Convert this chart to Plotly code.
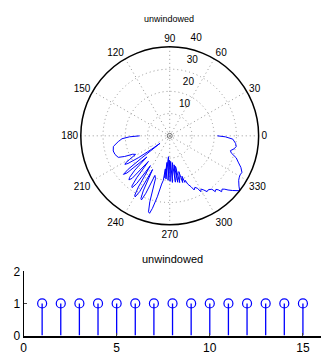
import plotly.graph_objects as go

# ---- polar pattern data (degrees, radial value) ----
theta_deg = [180, 181.4, 183.5, 186.4, 190.7, 195, 198.8, 202.7, 204.6, 206.4, 208.5, 210.5,
             211.5, 212.5, 213.5, 215, 216.5, 217.6, 218.3, 218.8, 219.8, 221, 222.8, 224.5,
             226, 227.2, 228.5, 230.2, 231.8, 233, 234, 235.3, 237, 238.5, 239.5, 240.5,
             241.7, 243, 244.3, 245.3, 246.2, 247.4, 249.5, 251.6, 253.2, 254.4, 255.4,
             256.6, 258.5, 260.5, 261.8,
             262.5, 263.3, 264.2, 265.0, 266.5, 267.8, 269.2, 270.5, 272.0, 273.3, 275.6, 277.0,
             278.6, 279.8, 280.7, 282.0, 284.3, 285.5, 286.9, 288.0, 289.2,
             290.5, 292.7, 294.3, 296, 297.9, 299, 300.5, 302.2, 303.8, 305.5, 308.3, 309.2,
             310.8, 312, 312.9, 314.5, 315.9, 317.1, 319, 321.9, 324, 327.2, 329.3, 331, 333.2,
             336.1, 339, 341.7, 344.5, 346.3, 348.5, 350.9, 353.5, 357, 359, 360]
r_vals = [13.5, 18.1, 21.5, 23.3, 25.8, 26.3, 26.0, 25.1, 22.3, 18.6, 17.5, 21,
          23.2, 23.9, 22.5, 17, 10, 5.5, 16, 24, 27.1, 25.5, 14, 22,
          26, 27, 25.5, 15, 24, 28.3, 28.8, 26, 16, 27, 31, 31.6,
          28.5, 17, 27.5, 31, 31.5, 28, 19, 20.3, 31, 35.5, 36,
          33.5, 28, 22, 20.2,
          15, 19, 12, 19.5, 9.4, 20, 11, 20.5, 11.5, 21, 12.1, 21,
          13.2, 21.2, 14, 21.5, 16.6, 21.8, 19, 22, 21.2,
          23.2, 24.8, 26.7, 25.8, 26.7, 28.7, 27.8, 28.8, 30.2, 29.8, 30.6, 32.4,
          31.8, 32.7, 34.3, 33.6, 34.5, 35.8, 37.5, 40.0, 38.5, 36.9, 36.4, 36.2, 36.4,
          35, 33, 31.5, 28.7, 28.1, 29.5, 30.3, 29.8, 28.4, 25, 21.4]

angle_ticks = [0, 30, 60, 90, 120, 150, 180, 210, 240, 270, 300, 330]
radial_ticks = [10, 20, 30, 40]

# ---- stem data ----
n_idx = list(range(1, 16))
w_vals = [1] * 15
x_ticks = [0, 5, 10, 15]
y_ticks = [0, 1, 2]

FONT = "Liberation Sans, Arial, sans-serif"
W, H = 321, 363

fig = go.Figure()

fig.add_trace(go.Scatterpolar(
    r=r_vals, theta=theta_deg, mode="lines",
    line=dict(color="rgb(0,0,255)", width=1), showlegend=False, subplot="polar"))
fig.add_trace(go.Scatterpolar(
    r=[0], theta=[0], mode="markers",
    marker=dict(symbol="circle-open", size=5, color="rgb(110,110,110)", line=dict(width=1)),
    showlegend=False, subplot="polar"))

fig.add_trace(go.Scatter(
    x=n_idx, y=w_vals, mode="markers",
    marker=dict(symbol="circle-open", size=9, color="rgb(0,0,255)", line=dict(width=1.2)),
    error_y=dict(type="data", symmetric=False, array=[0] * len(w_vals), arrayminus=w_vals,
                 width=0, color="rgb(0,0,255)", thickness=1.3),
    showlegend=False, xaxis="x", yaxis="y"))

cx0, cx1 = 76 / W, 260.6 / W
cy0, cy1 = 1 - 226.5 / H, 1 - 41.5 / H

fig.update_layout(
    width=W, height=H,
    margin=dict(l=0, r=0, t=0, b=0),
    paper_bgcolor="white", plot_bgcolor="white",
    font=dict(family=FONT, size=10, color="black"),
    polar=dict(
        domain=dict(x=[cx0, cx1], y=[cy0, cy1]),
        bgcolor="white",
        angularaxis=dict(
            tickmode="array", tickvals=angle_ticks, ticktext=[str(a) for a in angle_ticks],
            direction="counterclockwise", rotation=0,
            showline=True, linecolor="black", linewidth=1.5,
            showgrid=True, gridcolor="rgb(150,150,150)", griddash="1px,3px", gridwidth=1,
            ticks="", tickfont=dict(size=10, family=FONT)),
        radialaxis=dict(
            range=[0, 40], tickmode="array", tickvals=radial_ticks,
            ticktext=[str(v) + "<br> <br> " for v in radial_ticks],
            angle=80, tickangle=80, side="clockwise",
            showline=False, ticks="",
            showgrid=True, gridcolor="rgb(150,150,150)", griddash="1px,3px", gridwidth=1,
            tickfont=dict(size=10, family=FONT)),
    ),
    xaxis=dict(
        domain=[20.7 / W, 1.0], range=[0, 15.97],
        tickmode="array", tickvals=x_ticks, ticks="inside", ticklen=3,
        showline=True, linecolor="black", linewidth=2, showgrid=False, zeroline=False,
        tickfont=dict(size=12, family=FONT), anchor="y"),
    yaxis=dict(
        domain=[1 - 341.7 / H, 1 - 275 / H], range=[0, 2],
        tickmode="array", tickvals=y_ticks, ticks="inside", ticklen=3,
        showline=True, linecolor="black", linewidth=1, showgrid=False, zeroline=False,
        tickfont=dict(size=12, family=FONT), anchor="x"),
    annotations=[
        dict(text="unwindowed", x=168 / W, y=1 - 13 / H, xref="paper", yref="paper",
             showarrow=False, font=dict(size=9, family=FONT), xanchor="center", yanchor="middle"),
        dict(text="unwindowed", x=171 / W, y=1 - 262 / H, xref="paper", yref="paper",
             showarrow=False, font=dict(size=11, family=FONT), xanchor="center", yanchor="middle"),
    ],
)

fig.write_html("out.html")
